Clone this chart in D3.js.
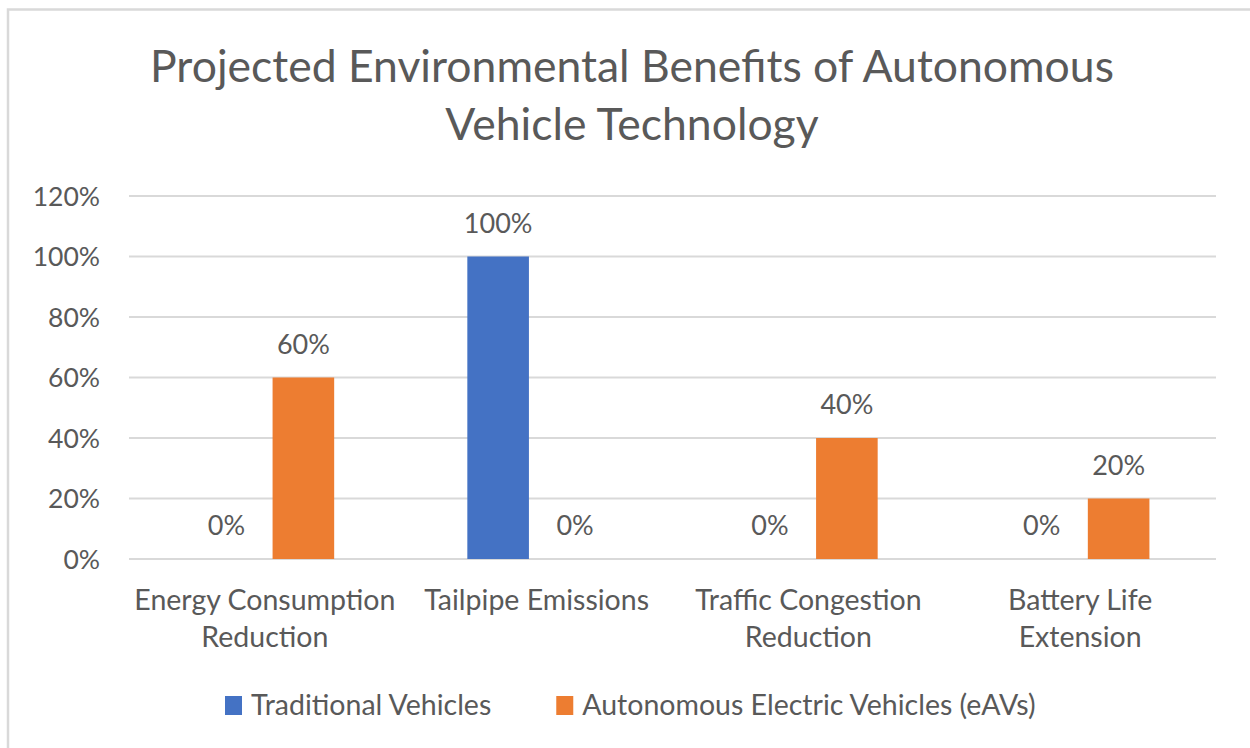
<!DOCTYPE html>
<html>
<head>
<meta charset="utf-8">
<script src="https://cdn.jsdelivr.net/npm/d3@7"></script>
<style>
  body { margin: 0; background: #fff; }
  svg text { font-family: Lato, "Open Sans", sans-serif; fill: #595959; }
</style>
</head>
<body>
<div id="chart-container"></div>
<script>
// Data
const categories = [
  ["Energy Consumption", "Reduction"],
  ["Tailpipe Emissions"],
  ["Traffic Congestion", "Reduction"],
  ["Battery Life", "Extension"]
];
const seriesNames = ["Traditional Vehicles", "Autonomous Electric Vehicles (eAVs)"];
const traditional = [0, 1.0, 0, 0];
const autonomous = [0.6, 0, 0.4, 0.2];
const yTicks = [0, 0.2, 0.4, 0.6, 0.8, 1.0, 1.2];
const colors = ["#4472C4", "#ED7D31"];
const titleLines = ["Projected Environmental Benefits of Autonomous", "Vehicle Technology"];

const width = 1250, height = 748;
const svg = d3.select("#chart-container").append("svg")
  .attr("width", width).attr("height", height);

// Chart border
svg.append("rect")
  .attr("x", 8).attr("y", 9.5)
  .attr("width", 1265).attr("height", 760)
  .attr("fill", "#fff")
  .attr("stroke", "#d9d9d9").attr("stroke-width", 2.5);

// Title
svg.append("g").selectAll("text")
  .data(titleLines)
  .join("text")
  .text(d => d)
    .attr("x", 632)
    .attr("y", (d, i) => 82 + i * 58)
    .attr("text-anchor", "middle")
    .style("font-size", "44.5px");

// Scales
const catIdx = d3.range(categories.length);
const x0 = d3.scaleBand()
  .domain(catIdx)
  .range([129, 1216])
  .paddingInner(0.49)
  .paddingOuter(0.245);
const x1 = d3.scaleBand()
  .domain([0, 1])
  .range([0, x0.bandwidth()])
  .paddingInner(0.2);
const y = d3.scaleLinear()
  .domain([0, 1.2])
  .range([559, 196]);

// Gridlines
svg.append("g").attr("id", "grid")
  .selectAll("line")
  .data(yTicks)
  .join("line")
    .attr("x1", 129).attr("x2", 1216)
    .attr("y1", d => y(d)).attr("y2", d => y(d))
    .attr("stroke", "#d9d9d9").attr("stroke-width", 2);

// Y-axis labels
svg.append("g").attr("id", "y-axis")
  .selectAll("text")
  .data(yTicks)
  .join("text")
  .text(d => d3.format(".0%")(d))
    .attr("x", 100)
    .attr("y", d => y(d))
    .attr("dy", "0.36em")
    .attr("text-anchor", "end")
    .style("font-size", "26.5px");

// Bars
const rows = catIdx.map(i => [traditional[i], autonomous[i]]);
const group = svg.append("g").attr("id", "bars")
  .selectAll("g")
  .data(rows)
  .join("g")
    .attr("transform", (d, i) => `translate(${x0(i)},0)`);

group.selectAll("rect")
  .data(d => d)
  .join("rect")
    .attr("x", (d, j) => x1(j))
    .attr("y", d => y(d))
    .attr("width", x1.bandwidth())
    .attr("height", d => y(0) - y(d))
    .attr("fill", (d, j) => colors[j]);

// Data labels
group.selectAll("text")
  .data(d => d)
  .join("text")
  .text(d => d3.format(".0%")(d))
    .attr("x", (d, j) => x1(j) + x1.bandwidth() / 2)
    .attr("y", d => y(d) - 24)
    .attr("text-anchor", "middle")
    .style("font-size", "27px");

// Category labels
const cat = svg.append("g").attr("id", "x-axis")
  .selectAll("text")
  .data(categories)
  .join("text")
    .attr("x", (d, i) => x0(i) + x0.bandwidth() / 2)
    .attr("y", 610)
    .attr("text-anchor", "middle")
    .style("font-size", "28.5px");
cat.selectAll("tspan")
  .data(d => d)
  .join("tspan")
  .text(d => d)
    .attr("x", function () { return this.parentNode.getAttribute("x"); })
    .attr("dy", (d, i) => i === 0 ? 0 : 37);

// Legend
const legend = svg.append("g").attr("id", "legend");
let lx = 225;
seriesNames.forEach((name, i) => {
  legend.append("rect")
    .attr("x", lx).attr("y", 696)
    .attr("width", 17).attr("height", 19)
    .attr("fill", colors[i]);
  const t = legend.append("text")
    .text(name)
    .attr("x", lx + 26)
    .attr("y", 715)
    .style("font-size", "28.5px");
  lx += 26 + t.node().getComputedTextLength() + 65;
});
</script>
</body>
</html>
